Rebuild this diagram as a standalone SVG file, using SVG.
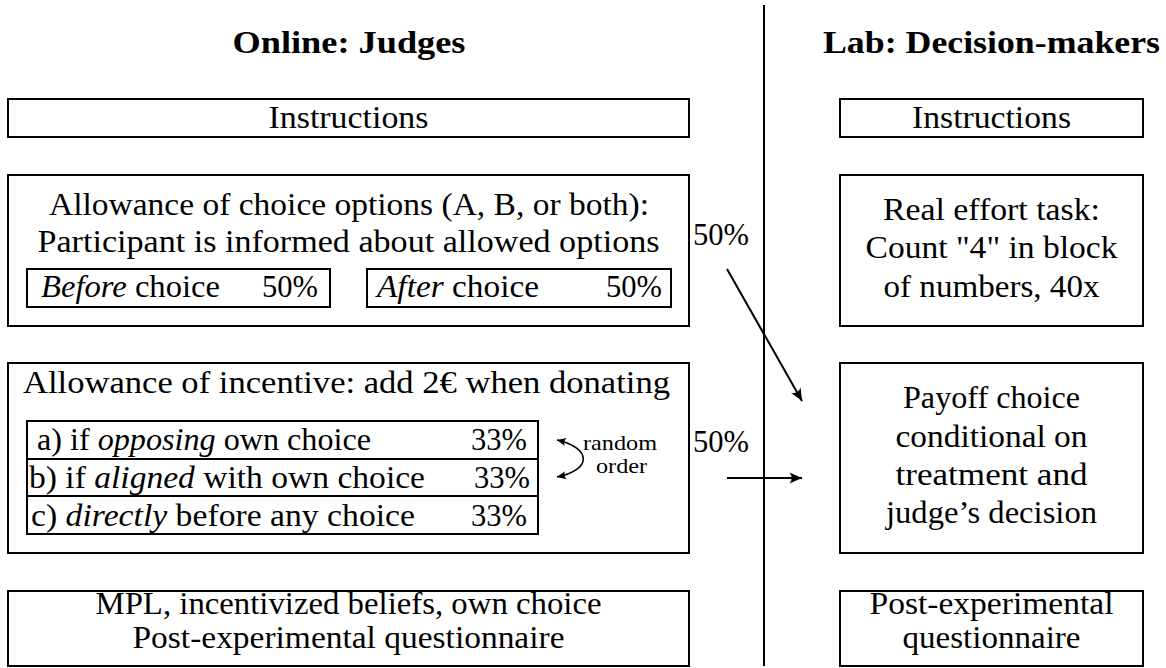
<svg xmlns="http://www.w3.org/2000/svg" width="1166" height="668" viewBox="0 0 1166 668">
<defs>
<style>
text{font-family:Liberation Serif, serif;font-size:31px;fill:#000}
.h{font-weight:bold;text-anchor:middle}
.c{text-anchor:middle}
.sm{font-size:22px}
.i{font-style:italic}
.box{fill:#fff;stroke:#000;stroke-width:2}
.ln{fill:none;stroke:#000;stroke-width:2}
</style>
<marker id="arr" markerWidth="16" markerHeight="14" refX="13" refY="7" orient="auto" markerUnits="userSpaceOnUse">
<path d="M13,7 L0.5,1.5 Q5,7 0.5,12.5 Z" fill="#000"/>
</marker>
<marker id="arrs" markerWidth="12" markerHeight="10" refX="10" refY="5" orient="auto-start-reverse" markerUnits="userSpaceOnUse">
<path d="M10,5 L1,1 Q4,5 1,9 Z" fill="#000"/>
</marker>
</defs>

<g id="header-online"><text class="h" x="349" y="53" textLength="233" lengthAdjust="spacingAndGlyphs">Online:  Judges</text></g>
<g id="header-lab"><text class="h" x="991.5" y="53" textLength="337" lengthAdjust="spacingAndGlyphs">Lab:  Decision-makers</text></g>

<g id="divider"><line class="ln" x1="764" y1="5" x2="764" y2="666"/></g>

<g id="online-instructions">
<rect class="box" x="8" y="99" width="681" height="38"/>
<text class="c" x="348.5" y="128" textLength="160" lengthAdjust="spacingAndGlyphs">Instructions</text>
</g>

<g id="online-allowance-options">
<rect class="box" x="8" y="175" width="681" height="151"/>
<text class="c" x="349" y="215" textLength="600" lengthAdjust="spacingAndGlyphs">Allowance of choice options (A, B, or both):</text>
<text class="c" x="348.5" y="252" textLength="622" lengthAdjust="spacingAndGlyphs">Participant is informed about allowed options</text>
<g id="before-choice">
<rect class="box" x="27" y="269" width="303" height="38"/>
<text x="41" y="297" textLength="179" lengthAdjust="spacingAndGlyphs"><tspan class="i">Before</tspan> choice</text>
<text x="262" y="297" textLength="56" lengthAdjust="spacingAndGlyphs">50%</text>
</g>
<g id="after-choice">
<rect class="box" x="367" y="269" width="304" height="38"/>
<text x="377" y="297" textLength="162" lengthAdjust="spacingAndGlyphs"><tspan class="i">After</tspan> choice</text>
<text x="606" y="297" textLength="56" lengthAdjust="spacingAndGlyphs">50%</text>
</g>
</g>

<g id="online-allowance-incentive">
<rect class="box" x="8" y="363" width="681" height="190"/>
<text x="23" y="393" textLength="647" lengthAdjust="spacingAndGlyphs">Allowance of incentive:  add 2€  when donating</text>
<g id="incentive-table">
<rect class="box" x="27" y="421" width="511" height="113"/>
<line class="ln" x1="27" y1="459" x2="538" y2="459"/>
<line class="ln" x1="27" y1="496" x2="538" y2="496"/>
<text x="37" y="450" textLength="334" lengthAdjust="spacingAndGlyphs">a) if <tspan class="i">opposing</tspan> own choice</text>
<text x="471" y="450" textLength="56" lengthAdjust="spacingAndGlyphs">33%</text>
<text x="29" y="488" textLength="396" lengthAdjust="spacingAndGlyphs">b) if <tspan class="i">aligned</tspan> with own choice</text>
<text x="474" y="488" textLength="56" lengthAdjust="spacingAndGlyphs">33%</text>
<text x="31" y="526" textLength="384" lengthAdjust="spacingAndGlyphs">c) <tspan class="i">directly</tspan> before any choice</text>
<text x="471" y="526" textLength="56" lengthAdjust="spacingAndGlyphs">33%</text>
</g>
<g id="random-order">
<path class="ln" style="stroke-width:1.6" d="M557,440 C592,448 592,470 557,477" marker-start="url(#arrs)" marker-end="url(#arrs)"/>
<text x="583" y="450" class="sm" textLength="74" lengthAdjust="spacingAndGlyphs">random</text>
<text x="596" y="473" class="sm" textLength="51" lengthAdjust="spacingAndGlyphs">order</text>
</g>
</g>

<g id="online-final">
<rect class="box" x="8" y="591" width="681" height="75"/>
<text class="c" x="348.5" y="614" textLength="506" lengthAdjust="spacingAndGlyphs">MPL, incentivized beliefs, own choice</text>
<text class="c" x="348.5" y="648" textLength="432" lengthAdjust="spacingAndGlyphs">Post-experimental questionnaire</text>
</g>

<g id="lab-instructions">
<rect class="box" x="840" y="99" width="303" height="38"/>
<text class="c" x="991.5" y="128" textLength="159" lengthAdjust="spacingAndGlyphs">Instructions</text>
</g>

<g id="lab-real-effort">
<rect class="box" x="840" y="175" width="303" height="151"/>
<text class="c" x="991.5" y="220" textLength="217" lengthAdjust="spacingAndGlyphs">Real effort task:</text>
<text class="c" x="991.5" y="258" textLength="252" lengthAdjust="spacingAndGlyphs">Count "4" in block</text>
<text class="c" x="991.5" y="297" textLength="216" lengthAdjust="spacingAndGlyphs">of numbers, 40x</text>
</g>

<g id="lab-payoff">
<rect class="box" x="840" y="363" width="303" height="190"/>
<text class="c" x="991.5" y="408" textLength="177" lengthAdjust="spacingAndGlyphs">Payoff choice</text>
<text class="c" x="991.5" y="447" textLength="192" lengthAdjust="spacingAndGlyphs">conditional on</text>
<text class="c" x="991.5" y="485" textLength="192" lengthAdjust="spacingAndGlyphs">treatment and</text>
<text class="c" x="991.5" y="523" textLength="211" lengthAdjust="spacingAndGlyphs">judge’s decision</text>
</g>

<g id="lab-post">
<rect class="box" x="840" y="591" width="303" height="75"/>
<text class="c" x="991.5" y="614" textLength="244" lengthAdjust="spacingAndGlyphs">Post-experimental</text>
<text class="c" x="991.5" y="648" textLength="178" lengthAdjust="spacingAndGlyphs">questionnaire</text>
</g>

<g id="connectors">
<text x="693" y="245" textLength="56" lengthAdjust="spacingAndGlyphs">50%</text>
<line class="ln" x1="727" y1="269" x2="802" y2="401" marker-end="url(#arr)"/>
<text x="693" y="452" textLength="56" lengthAdjust="spacingAndGlyphs">50%</text>
<line class="ln" x1="727" y1="478" x2="802" y2="478" marker-end="url(#arr)"/>
</g>
</svg>
